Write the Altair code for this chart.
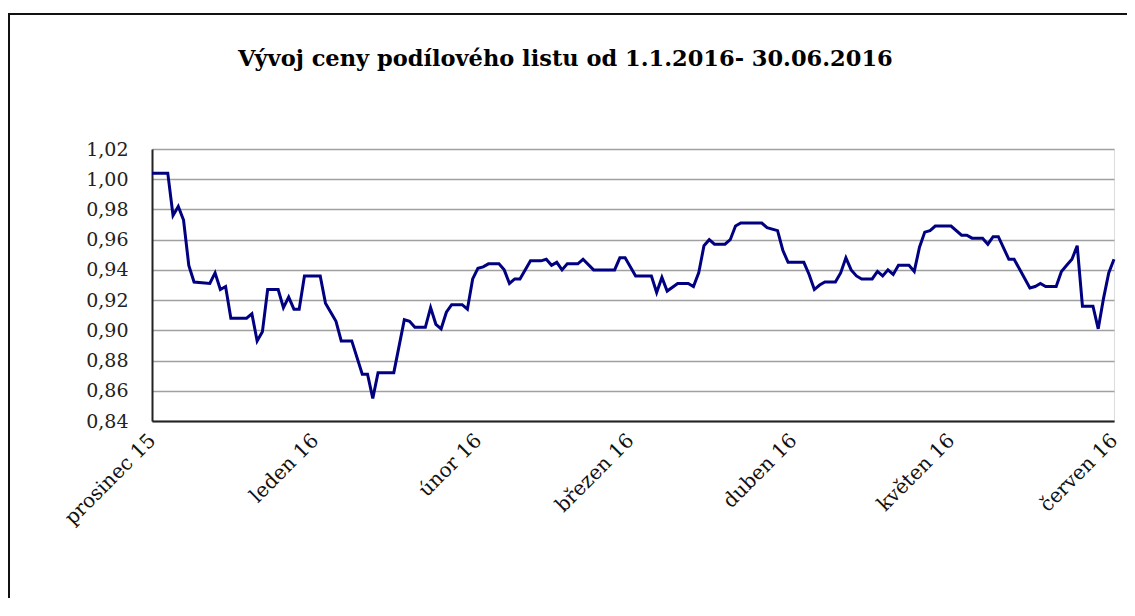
import json
import altair as alt
import pandas as pd

title_text = "Vývoj ceny podílového listu od 1.1.2016- 30.06.2016"
start_date = "2015-12-01"
month_names = ["leden", "únor", "březen", "duben", "květen", "červen",
               "červenec", "srpen", "září", "říjen", "listopad", "prosinec"]

days = [0, 3, 4, 5, 6, 7, 8, 11, 12, 13,
        14, 15, 18, 19, 20, 21, 22, 24, 25, 26,
        27, 28, 29, 32, 33, 34, 35, 36, 38, 40,
        41, 42, 43, 46, 48, 49, 50, 52, 53, 54,
        55, 56, 57, 59, 60, 61, 62, 63, 64, 66,
        67, 68, 69, 70, 72, 74, 75, 76, 77, 78,
        79, 81, 82, 84, 88, 89, 90, 92, 95, 96,
        97, 98, 100, 102, 103, 104, 105, 106, 107, 109,
        110, 111, 112, 116, 117, 119, 120, 121, 124, 125,
        126, 127, 128, 130, 131, 132, 133, 134, 135, 137,
        138, 139, 140, 141, 142, 144, 145, 146, 147, 148,
        149, 152, 154, 155, 156, 158, 159, 160, 161, 163,
        164, 167, 168, 169, 170, 172, 173, 174, 175, 176,
        177, 179, 180, 181, 182, 183]

prices = [1.004, 1.004, 0.976, 0.982, 0.973, 0.943, 0.932, 0.931, 0.938, 0.927,
          0.929, 0.908, 0.908, 0.911, 0.893, 0.899, 0.927, 0.927, 0.915, 0.922,
          0.914, 0.914, 0.936, 0.936, 0.918, 0.912, 0.906, 0.893, 0.893, 0.871,
          0.871, 0.855, 0.872, 0.872, 0.907, 0.906, 0.902, 0.902, 0.915, 0.904,
          0.901, 0.912, 0.917, 0.917, 0.914, 0.934, 0.941, 0.942, 0.944, 0.944,
          0.940, 0.931, 0.934, 0.934, 0.946, 0.946, 0.947, 0.943, 0.945, 0.940,
          0.944, 0.944, 0.947, 0.940, 0.940, 0.948, 0.948, 0.936, 0.936, 0.925,
          0.935, 0.926, 0.931, 0.931, 0.929, 0.938, 0.956, 0.960, 0.957, 0.957,
          0.960, 0.969, 0.971, 0.971, 0.968, 0.966, 0.953, 0.945, 0.945, 0.937,
          0.927, 0.930, 0.932, 0.932, 0.938, 0.948, 0.940, 0.936, 0.934, 0.934,
          0.939, 0.936, 0.940, 0.937, 0.943, 0.943, 0.939, 0.955, 0.965, 0.966,
          0.969, 0.969, 0.963, 0.963, 0.961, 0.961, 0.957, 0.962, 0.962, 0.947,
          0.947, 0.928, 0.929, 0.931, 0.929, 0.929, 0.939, 0.943, 0.947, 0.956,
          0.916, 0.916, 0.901, 0.921, 0.938, 0.947]

y_ticks = [0.84, 0.86, 0.88, 0.90, 0.92, 0.94, 0.96, 0.98, 1.00, 1.02]
x_tick_months = [(2015, 12), (2016, 1), (2016, 2), (2016, 3), (2016, 4), (2016, 5), (2016, 6)]

base = pd.Timestamp(start_date)
df = pd.DataFrame({
    "datum": [base + pd.Timedelta(days=d) for d in days],
    "cena": prices,
})

x_values = [alt.DateTime(year=y, month=m, date=1) for y, m in x_tick_months]
month_js = json.dumps(month_names, ensure_ascii=False)

line = alt.Chart(df).mark_line(color="#000080", strokeWidth=3).encode(
    x=alt.X(
        "datum:T",
        scale=alt.Scale(domain=[alt.DateTime(year=2015, month=12, date=1),
                                alt.DateTime(year=2016, month=6, date=1)]),
        axis=alt.Axis(
            title=None,
            values=x_values,
            labelExpr=f"{month_js}[month(datum.value)] + ' ' + timeFormat(datum.value, '%y')",
            labelAngle=-45,
            labelAlign="right",
            labelBaseline="middle",
            labelPadding=16,
            ticks=False,
            grid=False,
            domainColor="#222222",
            domainWidth=2,
            labelFont="DejaVu Serif",
            labelFontSize=20,
            labelColor="#111111",
            labelFlush=False,
            labelOverlap=False,
        ),
    ),
    y=alt.Y(
        "cena:Q",
        scale=alt.Scale(domain=[0.84, 1.02], nice=False, zero=False),
        axis=alt.Axis(
            title=None,
            values=y_ticks,
            labelExpr="replace(format(datum.value, '.2f'), '.', ',')",
            ticks=False,
            grid=True,
            gridColor="#a0a0a0",
            gridWidth=1.5,
            domainColor="#222222",
            domainWidth=2,
            labelPadding=24,
            labelFont="DejaVu Serif",
            labelFontSize=19,
            labelColor="#222222",
            labelFlush=False,
            labelOverlap=False,
        ),
    ),
)

frame = alt.Chart(pd.DataFrame({"f": [0]})).mark_rect(
    fill="transparent", stroke="#111111", strokeWidth=2
).encode(
    x=alt.value(-143), x2=alt.value(1200),
    y=alt.value(-135), y2=alt.value(800),
)

chart = alt.layer(frame, line).properties(
    width=962,
    height=272,
    title=alt.Title(
        title_text,
        anchor="start",
        frame="group",
        dx=86,
        offset=-57,
        font="DejaVu Serif",
        fontSize=22.5,
        fontWeight="bold",
        color="#000000",
    ),
    autosize=alt.AutoSizeParams(type="none"),
    padding={"left": 144, "top": 141, "right": 13, "bottom": 177},
).configure_view(
    stroke="#a0a0a0", strokeWidth=1.5
).configure(background="white")

chart.save("out.html", embed_options={"renderer": "svg", "actions": False})
